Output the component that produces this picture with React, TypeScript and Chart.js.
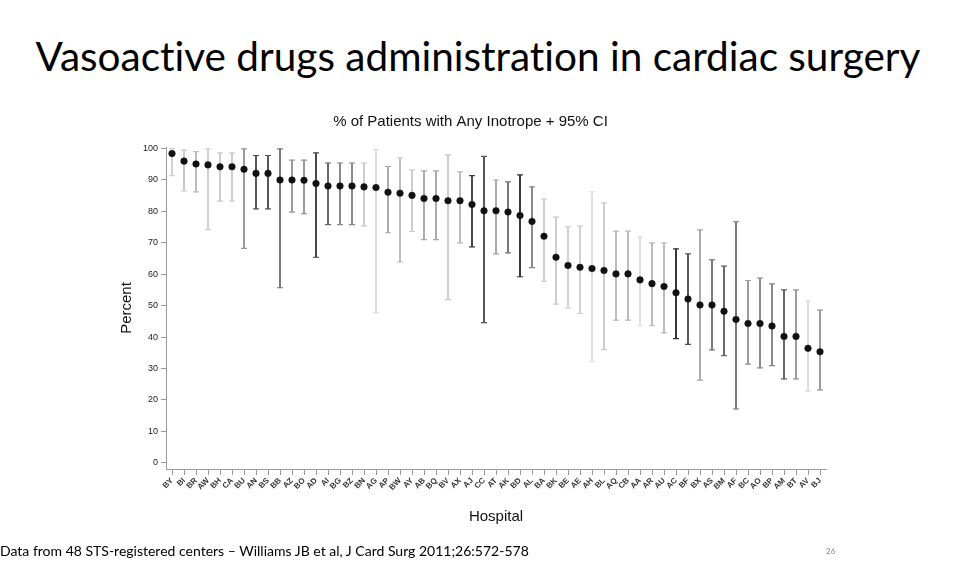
import React, { useEffect, useRef } from "react";
import { Chart, registerables } from "chart.js";

Chart.register(...registerables);

const slideTitle = "Vasoactive drugs administration in cardiac surgery";
const chartTitle = "% of Patients with Any Inotrope + 95% CI";
const footerText = "Data from 48 STS-registered centers \u2013 Williams JB et al, J Card Surg 2011;26:572-578";
const pageNumber = "26";

const hospitals = [
  "BY", "BI", "BR", "AW", "BH", "CA", "BU", "AN", "BS", "BB",
  "AZ", "BO", "AD", "AI", "BG", "BZ", "BN", "AG", "AP", "BW",
  "AY", "AB", "BQ", "BV", "AX", "AJ", "CC", "AT", "AK", "BD",
  "AL", "BA", "BK", "BE", "AE", "AH", "BL", "AQ", "CB", "AA",
  "AR", "AU", "AC", "BF", "BX", "AS", "BM", "AF", "BC", "AO",
  "BP", "AM", "BT", "AV", "BJ",
];

const percent = [
  98.4, 96.0, 95.1, 94.8, 94.2, 94.2, 93.4, 92.1, 92.1, 90.0,
  90.0, 89.9, 88.9, 88.1, 88.1, 88.1, 87.8, 87.6, 86.1, 85.8,
  85.1, 84.1, 84.1, 83.4, 83.4, 82.2, 80.2, 80.2, 79.8, 78.7,
  76.8, 72.1, 65.4, 62.8, 62.2, 61.8, 61.2, 60.1, 60.1, 58.2,
  57.0, 56.1, 54.1, 52.1, 50.2, 50.2, 48.2, 45.6, 44.3, 44.3,
  43.5, 40.2, 40.2, 36.4, 35.3,
];

const upperCI = [
  100, 99.5, 99.0, 99.9, 98.6, 98.6, 99.9, 97.8, 97.8, 99.9,
  96.3, 96.3, 98.6, 95.4, 95.4, 95.4, 95.4, 99.7, 94.3, 97.0,
  93.2, 92.9, 92.9, 98.0, 92.6, 91.4, 97.5, 90.0, 89.4, 91.6,
  87.8, 84.0, 78.2, 75.1, 75.4, 86.2, 82.7, 73.7, 73.7, 71.9,
  70.0, 70.0, 68.1, 66.5, 74.1, 64.6, 62.6, 76.7, 58.0, 58.8,
  56.9, 55.0, 55.0, 51.5, 48.6,
];

const lowerCI = [
  91.4, 86.5, 86.2, 74.2, 83.3, 83.3, 68.2, 80.8, 80.8, 55.7,
  79.8, 79.3, 65.4, 75.8, 75.8, 75.8, 75.4, 47.8, 73.2, 63.9,
  73.6, 71.0, 71.0, 51.9, 70.0, 68.7, 44.6, 66.5, 66.8, 59.2,
  62.1, 57.7, 50.5, 49.3, 47.5, 32.2, 36.0, 45.4, 45.4, 43.6,
  43.6, 41.3, 39.5, 37.7, 26.3, 35.9, 34.1, 17.1, 31.4, 30.2,
  30.9, 26.7, 26.7, 22.8, 23.2,
];

const yTicks = [0, 10, 20, 30, 40, 50, 60, 70, 80, 90, 100];

// per-hospital shade of the CI whisker
const ciColors = [
  "#d0d0d0", "#c8c8c8", "#bbbbbb", "#d0d0d0", "#cccccc", "#cccccc", "#999999", "#555555", "#555555", "#777777",
  "#999999", "#999999", "#444444", "#666666", "#888888", "#888888", "#cccccc", "#dddddd", "#aaaaaa", "#bbbbbb",
  "#cccccc", "#aaaaaa", "#aaaaaa", "#cccccc", "#bbbbbb", "#444444", "#555555", "#aaaaaa", "#777777", "#333333",
  "#888888", "#cccccc", "#cccccc", "#d0d0d0", "#d0d0d0", "#e0e0e0", "#cccccc", "#bbbbbb", "#bbbbbb", "#e0e0e0",
  "#bbbbbb", "#bbbbbb", "#333333", "#555555", "#aaaaaa", "#777777", "#666666", "#777777", "#999999", "#888888",
  "#888888", "#666666", "#999999", "#dddddd", "#999999",
];

const AXIS_FONT = "'Liberation Sans', Arial, sans-serif";
const SLIDE_FONT = "Lato, 'Open Sans', sans-serif";

export default function App() {
  const canvasRef = useRef<HTMLCanvasElement | null>(null);

  useEffect(() => {
    const canvas = canvasRef.current;
    if (!canvas) return;
    const chart = new Chart(canvas, {
      type: "bar",
      data: {
        labels: hospitals,
        datasets: [
          {
            type: "line",
            label: "Percent",
            data: percent,
            showLine: false,
            pointStyle: "circle",
            pointRadius: 3.3,
            pointBackgroundColor: "#111111",
            pointBorderColor: "#111111",
            pointBorderWidth: 0.5,
            order: 0,
          } as any,
          {
            type: "line",
            label: "Upper",
            data: upperCI,
            showLine: false,
            pointStyle: "line",
            pointRadius: 3,
            pointBorderColor: ciColors,
            pointBorderWidth: 1.2,
            order: 1,
          } as any,
          {
            type: "line",
            label: "Lower",
            data: lowerCI,
            showLine: false,
            pointStyle: "line",
            pointRadius: 3,
            pointBorderColor: ciColors,
            pointBorderWidth: 1.2,
            order: 1,
          } as any,
          {
            type: "bar",
            label: "95% CI",
            data: hospitals.map((_, i) => [lowerCI[i], upperCI[i]]),
            backgroundColor: ciColors,
            borderWidth: 0,
            barThickness: 1.3,
            order: 2,
          } as any,
        ],
      },
      options: {
        animation: false,
        responsive: false,
        events: [],
        layout: { padding: { left: 115, right: 136, top: 113, bottom: 52 } },
        plugins: {
          legend: { display: false },
          tooltip: { enabled: false },
          title: {
            display: true,
            text: chartTitle,
            color: "#111111",
            font: { family: AXIS_FONT, size: 15, weight: "normal" },
            padding: { top: 0, bottom: 16 },
          },
        },
        scales: {
          x: {
            type: "category",
            offset: true,
            grid: {
              display: true,
              drawOnChartArea: false,
              drawTicks: true,
              tickLength: 6,
              color: "#9a9a9a",
              offset: false,
            },
            border: { display: true, color: "#9a9a9a", width: 1 },
            ticks: {
              autoSkip: false,
              minRotation: 45,
              maxRotation: 45,
              color: "#333333",
              padding: 1,
              font: { family: AXIS_FONT, size: 8, weight: "bold" },
            },
            title: {
              display: true,
              text: "Hospital",
              color: "#111111",
              font: { family: AXIS_FONT, size: 15 },
              padding: { top: 0, bottom: 0 },
            },
            afterFit: (s: any) => {
              s.height = 57;
              s.paddingLeft = 0;
              s.paddingRight = 0;
            },
          },
          y: {
            type: "linear",
            min: -2,
            max: 100.5,
            afterBuildTicks: (s: any) => {
              s.ticks = yTicks.map((v) => ({ value: v }));
            },
            grid: {
              display: true,
              drawOnChartArea: false,
              drawTicks: true,
              tickLength: 5,
              color: "#9a9a9a",
            },
            border: { display: true, color: "#9a9a9a", width: 1 },
            ticks: {
              color: "#222222",
              padding: 3,
              font: { family: AXIS_FONT, size: 9 },
            },
            title: {
              display: true,
              text: "Percent",
              color: "#111111",
              font: { family: AXIS_FONT, size: 15 },
              padding: { top: 3, bottom: 0 },
            },
            afterFit: (s: any) => {
              s.width = 51;
            },
          },
        },
      },
    });
    return () => chart.destroy();
  }, []);

  return (
    <div
      style={{
        position: "fixed",
        left: 0,
        top: 0,
        width: 962,
        height: 578,
        background: "#ffffff",
        overflow: "hidden",
      }}
    >
      <div
        style={{
          position: "absolute",
          left: 0,
          top: 36,
          width: 956,
          textAlign: "center",
          fontFamily: SLIDE_FONT,
          fontSize: 40.5,
          lineHeight: 1,
          color: "#000000",
          whiteSpace: "nowrap",
          fontVariantLigatures: "none",
          fontFeatureSettings: "'liga' 0",
        }}
      >
        {slideTitle}
      </div>
      <canvas
        ref={canvasRef}
        width={962}
        height={578}
        style={{ position: "absolute", left: 0, top: 0, width: 962, height: 578 }}
      />
      <div
        style={{
          position: "absolute",
          left: 0,
          top: 544,
          fontFamily: SLIDE_FONT,
          fontSize: 14,
          lineHeight: 1,
          color: "#000000",
          whiteSpace: "nowrap",
        }}
      >
        {footerText}
      </div>
      <div
        style={{
          position: "absolute",
          left: 826,
          top: 547,
          fontFamily: SLIDE_FONT,
          fontSize: 8,
          lineHeight: 1,
          color: "#888888",
        }}
      >
        {pageNumber}
      </div>
    </div>
  );
}
